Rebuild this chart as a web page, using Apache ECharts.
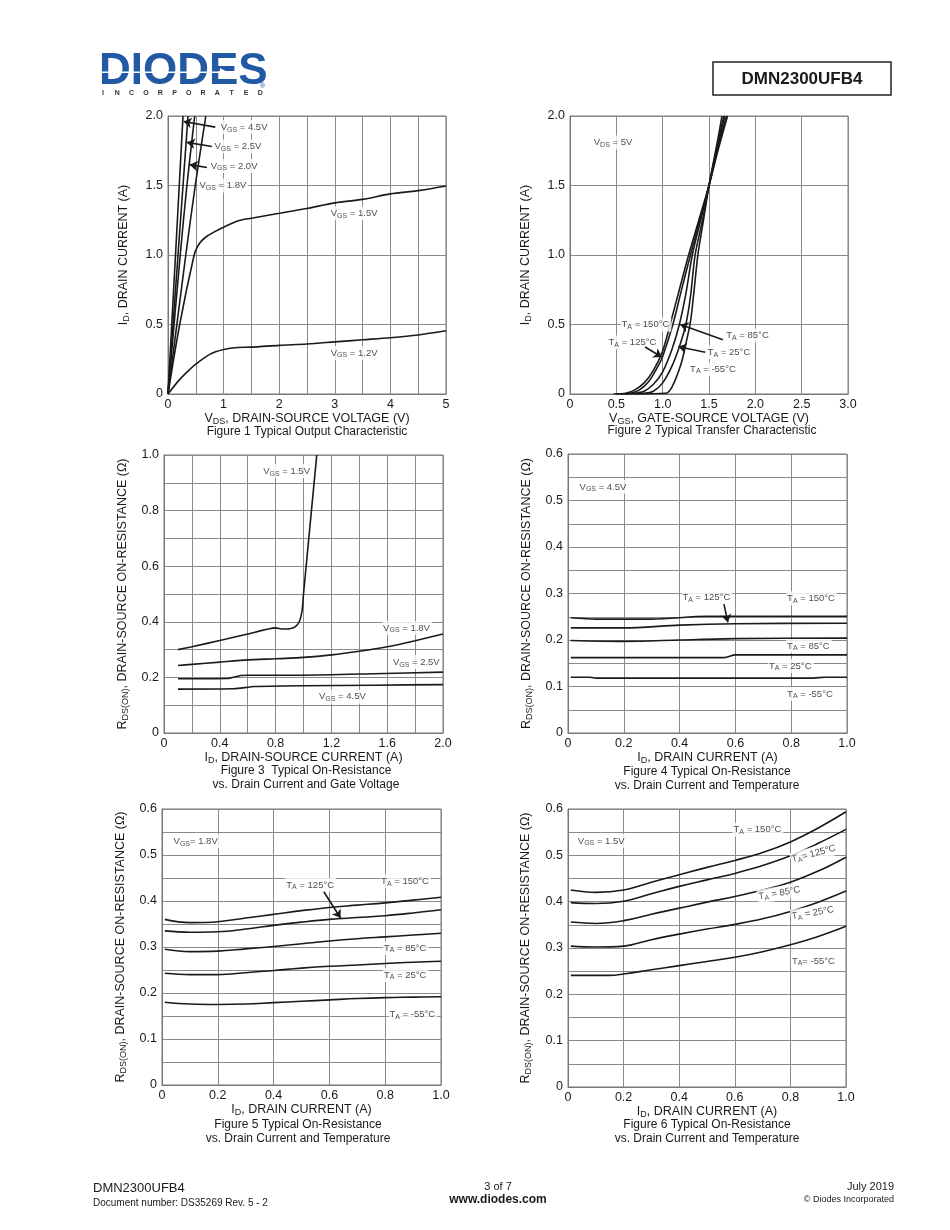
<!DOCTYPE html>
<html><head><meta charset="utf-8">
<script src="https://cdn.jsdelivr.net/npm/echarts@6/dist/echarts.min.js"></script>
<style>html,body{margin:0;padding:0;background:#fff}#c{width:950px;height:1230px}</style>
</head><body><div id="c"></div>
<script>
// ---------- Figure 1: ID vs VDS ----------
const f1_vgs45 = [[0,0],[0.135,1.0],[0.27,2.0]];
const f1_vgs25 = [[0,0],[0.18,1.0],[0.36,2.0]];
const f1_vgs20 = [[0,0],[0.22,1.0],[0.34,1.5],[0.48,2.0]];
const f1_vgs18 = [[0,0],[0.32,1.0],[0.49,1.5],[0.68,2.0]];
const f1_vgs15 = [[0,0],[0.21,0.5],[0.47,1.0],[0.53,1.06],[0.6,1.1],[0.7,1.135],[0.85,1.17],[1.0,1.2],[1.25,1.245],[1.5,1.265],[2,1.3],[2.5,1.335],[3,1.375],[3.5,1.4],[4,1.44],[4.5,1.463],[5,1.497]];
const f1_vgs12 = [[0,0],[0.2,0.1],[0.4,0.18],[0.5,0.215],[0.75,0.285],[1,0.32],[1.25,0.335],[1.5,0.337],[2,0.35],[2.5,0.36],[3,0.375],[3.5,0.39],[4,0.405],[4.5,0.425],[5,0.455]];
const f1_notes = [[0.92,1.92,'V{s|GS} = 4.5V'],[0.81,1.78,'V{s|GS} = 2.5V'],[0.74,1.64,'V{s|GS} = 2.0V'],[0.54,1.50,'V{s|GS} = 1.8V'],[2.9,1.30,'V{s|GS} = 1.5V'],[2.9,0.295,'V{s|GS} = 1.2V']];
const f1_arrows = [[[0.85,1.92],[0.28,1.96]],[[0.79,1.78],[0.34,1.81]],[[0.70,1.63],[0.39,1.65]]];

// ---------- Figure 2: ID vs VGS ----------
const f2_t150 = [[0.47,0],[0.6,0.005],[0.7,0.03],[0.8,0.08],[0.9,0.17],[1.0,0.31],[1.08,0.5],[1.18,0.75],[1.28,1.0],[1.39,1.25],[1.5,1.5],[1.6,1.76],[1.7,2.0]];
const f2_t125 = [[0.5,0],[0.65,0.005],[0.75,0.03],[0.85,0.09],[0.95,0.2],[1.0,0.27],[1.11,0.5],[1.2,0.74],[1.3,1.0],[1.4,1.25],[1.5,1.5],[1.6,1.78],[1.69,2.0]];
const f2_t85 = [[0.55,0],[0.7,0.005],[0.8,0.02],[0.9,0.07],[1.0,0.16],[1.1,0.32],[1.18,0.5],[1.25,0.72],[1.32,1.0],[1.41,1.25],[1.5,1.5],[1.6,1.8],[1.67,2.0]];
const f2_t25 = [[0.6,0],[0.8,0.005],[0.9,0.02],[1.0,0.08],[1.1,0.2],[1.18,0.34],[1.25,0.5],[1.3,0.7],[1.35,1.0],[1.43,1.25],[1.5,1.5],[1.6,1.82],[1.66,2.0]];
const f2_tm55 = [[0.7,0],[1.03,0.005],[1.1,0.05],[1.2,0.22],[1.25,0.36],[1.3,0.52],[1.34,0.75],[1.38,1.0],[1.44,1.25],[1.5,1.5],[1.6,1.85],[1.64,2.0]];
const f2_notes = [[0.24,1.81,'V{s|DS} = 5V'],[0.54,0.50,'T{s|A} = 150°C'],[0.40,0.37,'T{s|A} = 125°C'],[1.67,0.42,'T{s|A} = 85°C'],[1.47,0.30,'T{s|A} = 25°C'],[1.28,0.18,'T{s|A} = -55°C']];
const f2_arrows = [[[0.81,0.338],[0.99,0.266]],[[1.65,0.39],[1.19,0.5]],[[1.46,0.30],[1.17,0.34]]];

// ---------- Figure 3: RDS(ON) vs ID and VGS ----------
const f3_vgs15 = [[0.1,0.3],[0.2,0.31],[0.4,0.333],[0.6,0.356],[0.8,0.378],[0.85,0.374],[0.9,0.375],[0.94,0.382],[0.97,0.40],[0.99,0.44],[1.0,0.5],[1.095,1.0]];
const f3_vgs18 = [[0.1,0.243],[0.2,0.247],[0.4,0.255],[0.6,0.263],[0.8,0.267],[1.0,0.272],[1.2,0.281],[1.4,0.294],[1.6,0.31],[1.8,0.332],[2.0,0.356]];
const f3_vgs25 = [[0.1,0.195],[0.45,0.196],[0.55,0.207],[0.6,0.208],[1.0,0.208],[1.5,0.213],[2.0,0.219]];
const f3_vgs45 = [[0.1,0.158],[0.5,0.159],[0.65,0.167],[1.0,0.17],[1.5,0.172],[2.0,0.174]];
const f3_notes = [[0.70,0.942,'V{s|GS} = 1.5V'],[1.56,0.378,'V{s|GS} = 1.8V'],[1.63,0.255,'V{s|GS} = 2.5V'],[1.10,0.13,'V{s|GS} = 4.5V']];

// ---------- Figure 4: RDS(ON) vs ID, VGS=4.5V ----------
const f4_t150 = [[0.01,0.248],[0.1,0.245],[0.3,0.245],[0.5,0.251],[0.7,0.251],[1.0,0.251]];
const f4_t125 = [[0.01,0.226],[0.2,0.226],[0.4,0.232],[0.6,0.235],[1.0,0.236]];
const f4_t85 = [[0.01,0.199],[0.2,0.197],[0.4,0.2],[0.6,0.203],[1.0,0.204]];
const f4_t25 = [[0.01,0.162],[0.56,0.162],[0.6,0.168],[1.0,0.168]];
const f4_tm55 = [[0.01,0.12],[0.08,0.12],[0.1,0.118],[0.88,0.118],[0.92,0.12],[1.0,0.12]];
const f4_notes = [[0.036,0.529,'V{s|GS} = 4.5V'],[0.405,0.292,'T{s|A} = 125°C'],[0.78,0.29,'T{s|A} = 150°C'],[0.78,0.187,'T{s|A} = 85°C'],[0.715,0.144,'T{s|A} = 25°C'],[0.78,0.084,'T{s|A} = -55°C']];
const f4_arrows = [[[0.559,0.277],[0.573,0.238]]];

// ---------- Figure 5: RDS(ON) vs ID, VGS=1.8V ----------
const f5_t150 = [[0.01,0.36],[0.1,0.353],[0.2,0.355],[0.3,0.363],[0.4,0.371],[0.5,0.379],[0.6,0.386],[0.7,0.391],[0.8,0.396],[0.9,0.402],[1.0,0.408]];
const f5_t125 = [[0.01,0.335],[0.1,0.332],[0.2,0.333],[0.3,0.339],[0.4,0.347],[0.5,0.354],[0.6,0.36],[0.7,0.364],[0.8,0.368],[0.9,0.374],[1.0,0.381]];
const f5_t85 = [[0.01,0.295],[0.1,0.29],[0.2,0.291],[0.3,0.296],[0.4,0.301],[0.5,0.307],[0.6,0.313],[0.7,0.318],[0.8,0.322],[0.9,0.326],[1.0,0.33]];
const f5_t25 = [[0.01,0.243],[0.1,0.24],[0.2,0.24],[0.3,0.244],[0.4,0.249],[0.5,0.254],[0.6,0.258],[0.7,0.261],[0.8,0.264],[0.9,0.267],[1.0,0.269]];
const f5_tm55 = [[0.01,0.18],[0.1,0.176],[0.2,0.175],[0.3,0.176],[0.4,0.179],[0.5,0.182],[0.6,0.185],[0.7,0.188],[0.8,0.19],[0.9,0.191],[1.0,0.192]];
const f5_notes = [[0.036,0.53,'V{s|GS}= 1.8V'],[0.44,0.435,'T{s|A} = 125°C'],[0.78,0.443,'T{s|A} = 150°C'],[0.79,0.298,'T{s|A} = 85°C'],[0.79,0.239,'T{s|A} = 25°C'],[0.81,0.154,'T{s|A} = -55°C']];
const f5_arrows = [[[0.58,0.42],[0.64,0.363]]];

// ---------- Figure 6: RDS(ON) vs ID, VGS=1.5V ----------
const f6_t150 = [[0.01,0.425],[0.1,0.42],[0.2,0.425],[0.3,0.442],[0.4,0.458],[0.5,0.474],[0.6,0.489],[0.7,0.506],[0.8,0.529],[0.9,0.559],[1.0,0.594]];
const f6_t125 = [[0.01,0.398],[0.1,0.396],[0.2,0.401],[0.3,0.417],[0.4,0.433],[0.5,0.447],[0.6,0.461],[0.7,0.478],[0.8,0.499],[0.9,0.526],[1.0,0.556]];
const f6_t85 = [[0.01,0.356],[0.1,0.353],[0.2,0.359],[0.3,0.373],[0.4,0.386],[0.5,0.399],[0.6,0.411],[0.7,0.425],[0.8,0.442],[0.9,0.466],[1.0,0.496]];
const f6_t25 = [[0.01,0.304],[0.1,0.302],[0.2,0.304],[0.3,0.318],[0.4,0.33],[0.5,0.341],[0.6,0.351],[0.7,0.363],[0.8,0.379],[0.9,0.399],[1.0,0.423]];
const f6_tm55 = [[0.01,0.241],[0.15,0.241],[0.2,0.244],[0.3,0.253],[0.4,0.262],[0.5,0.271],[0.6,0.28],[0.7,0.292],[0.8,0.307],[0.9,0.325],[1.0,0.347]];
const f6_notes = [[0.03,0.531,'V{s|GS} = 1.5V',0],[0.59,0.555,'T{s|A} = 150°C',0],[0.80,0.49,'T{s|A}= 125°C',15],[0.68,0.41,'T{s|A} = 85°C',10],[0.80,0.367,'T{s|A} = 25°C',10],[0.80,0.272,'T{s|A}= -55°C',0]];

// ---------- axis names / captions ----------
const xNames = ['{a|V}{s|DS}{a|, DRAIN-SOURCE VOLTAGE (V)}','{a|V}{s|GS}{a|, GATE-SOURCE VOLTAGE (V)}','{a|I}{s|D}{a|, DRAIN-SOURCE CURRENT (A)}','{a|I}{s|D}{a|, DRAIN CURRENT (A)}','{a|I}{s|D}{a|, DRAIN CURRENT (A)}','{a|I}{s|D}{a|, DRAIN CURRENT (A)}'];
const RDS = '{a|R}{s|DS(ON)}{a|, DRAIN-SOURCE ON-RESISTANCE (Ω)}';
const yNames = ['{a|I}{s|D}{a|, DRAIN CURRENT (A)}','{a|I}{s|D}{a|, DRAIN CURRENT (A)}',RDS,RDS,RDS,RDS];
const captions = [['Figure 1 Typical Output Characteristic'],['Figure 2 Typical Transfer Characteristic'],['Figure 3  Typical On-Resistance','vs. Drain Current and Gate Voltage'],['Figure 4 Typical On-Resistance','vs. Drain Current and Temperature'],['Figure 5 Typical On-Resistance','vs. Drain Current and Temperature'],['Figure 6 Typical On-Resistance','vs. Drain Current and Temperature']];

const FONT = '"Liberation Sans", Arial, Helvetica, sans-serif';
const INK = '#1a1a1a';
const GRIDC = '#8a8a8a';

const grids = [
  {left:168, top:116, width:278, height:278},
  {left:570, top:116, width:278, height:278},
  {left:164, top:455, width:279, height:278},
  {left:568, top:454, width:279, height:279},
  {left:162, top:809, width:279, height:276},
  {left:568, top:809, width:278, height:278}
];
// [xmin,xmax,xint,xevery,xdig, ymin,ymax,yint,yevery,ydig, xgap, ygap]
const axSpec = [
  [0,5,0.5,1,0, 0,2,0.5,0.5,1, 15,37],
  [0,3,0.5,0.5,1, 0,2,0.5,0.5,1, 15,37],
  [0,2,0.2,0.4,1, 0,1,0.1,0.2,1, 16,34],
  [0,1,0.2,0.2,1, 0,0.6,0.05,0.1,1, 15,34],
  [0,1,0.2,0.2,1, 0,0.6,0.05,0.1,1, 16,34],
  [0,1,0.2,0.2,1, 0,0.6,0.05,0.1,1, 15,35]
];
function tickFmt(every, dig){
  return function(v){
    const k = v/every;
    if (Math.abs(k-Math.round(k))>1e-6) return '';
    if (Math.abs(v)<1e-9) return '0';
    return v.toFixed(dig);
  };
}
const nameRich = {
  a:{fontSize:12.5, fontFamily:FONT, color:INK, lineHeight:15, verticalAlign:'middle'},
  s:{fontSize:9, fontFamily:FONT, color:INK, lineHeight:9, verticalAlign:'bottom'}
};
const xAxis = [], yAxis = [];
axSpec.forEach((s,i)=>{
  xAxis.push({type:'value', gridIndex:i, min:s[0], max:s[1], interval:s[2],
    axisLine:{show:true, onZero:false, lineStyle:{color:'#777', width:1}}, axisTick:{show:false},
    axisLabel:{formatter:tickFmt(s[3],s[4]), fontSize:12.5, color:INK, fontFamily:FONT, margin:4, showMinLabel:true, showMaxLabel:true},
    splitLine:{show:true, lineStyle:{color:GRIDC, width:1}},
    name:xNames[i], nameLocation:'middle', nameGap:s[10], nameTextStyle:{rich:nameRich}});
  yAxis.push({type:'value', gridIndex:i, min:s[5], max:s[6], interval:s[7],
    axisLine:{show:true, onZero:false, lineStyle:{color:'#777', width:1}}, axisTick:{show:false},
    axisLabel:{formatter:tickFmt(s[8],s[9]), fontSize:12.5, color:INK, fontFamily:FONT, margin:5, showMinLabel:true, showMaxLabel:true},
    splitLine:{show:true, lineStyle:{color:GRIDC, width:1}},
    name:yNames[i], nameLocation:'middle', nameGap:s[11], nameTextStyle:{rich:nameRich}});
});

const curves = [
  [f1_vgs45,f1_vgs25,f1_vgs20,f1_vgs18,f1_vgs15,f1_vgs12],
  [f2_t150,f2_t125,f2_t85,f2_t25,f2_tm55],
  [f3_vgs15,f3_vgs18,f3_vgs25,f3_vgs45],
  [f4_t150,f4_t125,f4_t85,f4_t25,f4_tm55],
  [f5_t150,f5_t125,f5_t85,f5_t25,f5_tm55],
  [f6_t150,f6_t125,f6_t85,f6_t25,f6_tm55]
];
const smoothBy = [0.3, 0.3, 0.2, 0.3, 0.4, 0.4];
const notes = [f1_notes,f2_notes,f3_notes,f4_notes,f5_notes,f6_notes];
const arrows = [f1_arrows,f2_arrows,[],f4_arrows,f5_arrows,[]];

const series = [];
curves.forEach((list,gi)=>{
  list.forEach(d=>{
    series.push({type:'line', xAxisIndex:gi, yAxisIndex:gi, data:d, showSymbol:false, symbol:'none',
      smooth:smoothBy[gi], lineStyle:{color:INK, width:1.6}, z:3, silent:true});
  });
});
notes.forEach((list,gi)=>{
  series.push({type:'scatter', xAxisIndex:gi, yAxisIndex:gi, symbolSize:1, itemStyle:{color:'rgba(0,0,0,0)'}, z:5, silent:true,
    data:list.map(n=>({value:[n[0],n[1]], name:n[2], label:{rotate:n[3]||0}})),
    label:{show:true, position:'right', distance:0, formatter:p=>p.name, color:INK, fontFamily:FONT, fontSize:9.5,
      backgroundColor:'#fff', padding:[1,2,1,1], lineHeight:12,
      rich:{s:{fontSize:7, fontFamily:FONT, color:INK, verticalAlign:'bottom', lineHeight:7}}}
  });
});
arrows.forEach((list,gi)=>{
  if (!list.length) return;
  series.push({type:'lines', coordinateSystem:'cartesian2d', xAxisIndex:gi, yAxisIndex:gi, z:6, silent:true,
    symbol:['none','arrow'], symbolSize:[1,8], lineStyle:{color:INK, width:1.6, opacity:1},
    data:list.map(a=>({coords:[a[0],a[1]]}))});
});

// ---------- page graphics ----------
const capCenters = [[307,432],[712,431],[306,771],[707,772],[298,1125],[707,1125]];
const graphic = [];
function txt(t,x,y,font,align,va,fill){
  graphic.push({type:'text', silent:true, z:10, style:{text:t, x:x, y:y, font:font, fill:fill||INK,
    textAlign:align||'left', align:align||'left', textVerticalAlign:va||'middle', verticalAlign:va||'middle'}});
}
captions.forEach((c,i)=>{
  c.forEach((line,j)=>txt(line, capCenters[i][0], capCenters[i][1]+j*14, '12px '+FONT, 'center'));
});
// logo
txt('DIODES', 99, 72, 'bold 44px '+FONT, 'left', 'middle', '#2159a5');
graphic.push({type:'rect', silent:true, z:11, shape:{x:100,y:71.5,width:122,height:1.6}, style:{fill:'#fff'}});
graphic.push({type:'polygon', silent:true, z:11, shape:{points:[[220,68],[228,72.3],[220,76.6]]}, style:{fill:'#fff'}});
txt('®', 260, 86, '7px '+FONT, 'left', 'middle', '#2159a5');
'INCORPORATED'.split('').forEach((ch,i)=>txt(ch, 103+i*14.3, 93, 'bold 7px '+FONT, 'center', 'middle', '#333'));
// part number box
graphic.push({type:'rect', silent:true, z:10, shape:{x:713,y:62,width:178,height:33}, style:{fill:'#fff', stroke:'#222', lineWidth:1.5}});
txt('DMN2300UFB4', 802, 79, 'bold 17px '+FONT, 'center');
// footer
txt('DMN2300UFB4', 93, 1188, '13px '+FONT);
txt('Document number: DS35269 Rev. 5 - 2', 93, 1203, '10px '+FONT);
txt('3 of 7', 498, 1187, '11px '+FONT, 'center');
txt('www.diodes.com', 498, 1200, 'bold 12px '+FONT, 'center');
txt('July 2019', 894, 1187, '11px '+FONT, 'right');
txt('© Diodes Incorporated', 894, 1200, '9px '+FONT, 'right');

const chart = echarts.init(document.getElementById('c'), null, {renderer:'canvas'});
chart.setOption({
  animation:false,
  backgroundColor:'#fff',
  textStyle:{fontFamily:FONT},
  grid: grids.map(g=>Object.assign({show:true, borderColor:'#777', borderWidth:1, backgroundColor:'transparent', containLabel:false}, g)),
  xAxis, yAxis, series, graphic
});
</script></body></html>
